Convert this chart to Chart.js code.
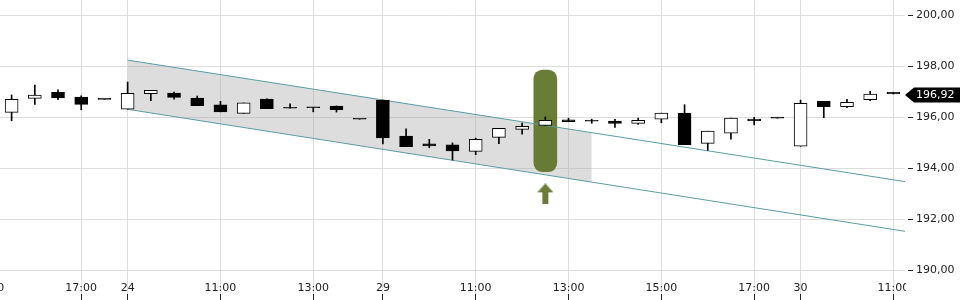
<!DOCTYPE html>
<html>
<head>
<meta charset="utf-8">
<script src="https://cdn.jsdelivr.net/npm/chart.js@4"></script>
<style>
  html, body { margin: 0; padding: 0; background: #fff; }
</style>
</head>
<body>
<canvas id="chart" width="960" height="300"></canvas>
<script>
// half-hour candles, index 0 = 15:30 of the previous session
const opens  = [196.20, 196.75, 196.99, 196.80, 196.71, 196.32, 196.93, 196.96, 196.76, 196.49,
                196.16, 196.72, 196.36, 196.38, 196.45, 195.93, 196.68, 195.27, 194.96, 194.92,
                194.67, 195.22, 195.53, 195.69, 195.91, 195.85, 195.86, 195.77, 195.93, 196.17,
                194.98, 195.38, 195.94, 195.97, 194.87, 196.63, 196.42, 196.70, 196.99];
const highs  = [196.88, 197.27, 197.08, 196.85, 196.71, 197.39, 197.06, 197.00, 196.84, 196.63,
                196.57, 196.73, 196.53, 196.38, 196.45, 195.93, 196.68, 195.55, 195.14, 195.00,
                195.19, 195.57, 195.78, 196.02, 195.97, 195.93, 195.93, 195.97, 196.17, 196.50,
                195.46, 195.97, 196.00, 195.97, 196.68, 196.63, 196.71, 197.03, 196.99];
const lows   = [195.87, 196.51, 196.70, 196.30, 196.71, 196.32, 196.66, 196.72, 196.46, 196.22,
                196.16, 196.34, 196.36, 196.22, 196.21, 195.93, 194.96, 194.85, 194.81, 194.33,
                194.54, 194.97, 195.34, 195.69, 195.83, 195.77, 195.61, 195.73, 195.79, 194.93,
                194.71, 195.15, 195.71, 195.97, 194.87, 195.99, 196.38, 196.66, 196.92];
const closes = [196.71, 196.88, 196.77, 196.51, 196.71, 196.95, 197.06, 196.79, 196.46, 196.22,
                196.57, 196.34, 196.36, 196.38, 196.30, 195.93, 195.20, 194.85, 194.88, 194.69,
                195.14, 195.57, 195.65, 195.89, 195.83, 195.85, 195.77, 195.89, 196.17, 194.93,
                195.46, 195.97, 195.87, 195.97, 196.55, 196.42, 196.59, 196.92, 196.92];

const tickIndex  = [-1, 3, 5, 9, 13, 16, 20, 24, 28, 32, 34, 38];
const tickLabels = ['15:00', '17:00', '24', '11:00', '13:00', '29', '11:00', '13:00', '15:00', '17:00', '30', '11:00'];
const priceTicks = [190, 192, 194, 196, 198, 200];

// trend channel lines and the shaded part between them
const channelX      = [5, 38.5];
const channelTop    = [198.25, 193.48];
const channelBottom = [196.32, 191.53];
const shadeX        = [5, 25];
const shadeTop      = [198.25, 195.40];
const shadeBottom   = [196.32, 193.47];

// signal marker
const signalIndex = 23;
const signalBand  = [193.87, 197.86];
const signalArrow = 193.0;

const teal = '#5b9ca3';
const olive = '#6b7d38';
const fmt = v => v.toFixed(2).replace('.', ',');
const idx = opens.map((_, i) => i);

Chart.defaults.font.family = '"DejaVu Sans"';
Chart.defaults.font.size = 11;

function makeArrow(color) {
  const c = document.createElement('canvas');
  c.width = 16; c.height = 21;
  const g = c.getContext('2d');
  g.fillStyle = color;
  g.beginPath();
  g.moveTo(8, 0); g.lineTo(16, 9); g.lineTo(11, 9); g.lineTo(11, 21);
  g.lineTo(5, 21); g.lineTo(5, 9); g.lineTo(0, 9);
  g.closePath();
  g.fill();
  return c;
}

const align = p => Math.round(p - 0.5) + 0.5;

// short dark marks under the time labels; time labels stop at the plot's right edge
const timeMarks = {
  id: 'timeMarks',
  afterDraw(chart) {
    const { ctx, chartArea, scales: { x } } = chart;
    ctx.save();
    ctx.fillStyle = '#fff';
    ctx.fillRect(chartArea.right + 1, chartArea.bottom + 1, chart.width, chart.height);
    ctx.strokeStyle = '#222';
    ctx.lineWidth = 1;
    x.ticks.forEach(t => {
      const px = x.getPixelForValue(t.value);
      if (px < 0) return;
      ctx.beginPath();
      ctx.moveTo(align(px), chart.height - 6);
      ctx.lineTo(align(px), chart.height);
      ctx.stroke();
    });
    ctx.restore();
  }
};

// black tag with the last price on the right axis
const lastPriceTag = {
  id: 'lastPriceTag',
  afterDraw(chart) {
    const { ctx, chartArea, scales: { y } } = chart;
    const price = closes[closes.length - 1];
    const py = Math.round(y.getPixelForValue(price)) + 1;
    const left = chartArea.right;
    ctx.save();
    ctx.fillStyle = '#000';
    ctx.beginPath();
    ctx.moveTo(left, py);
    ctx.lineTo(left + 9, py - 7.5);
    ctx.lineTo(chart.width, py - 7.5);
    ctx.lineTo(chart.width, py + 7.5);
    ctx.lineTo(left + 9, py + 7.5);
    ctx.closePath();
    ctx.fill();
    ctx.fillStyle = '#fff';
    ctx.font = '11px "DejaVu Sans"';
    ctx.textBaseline = 'middle';
    ctx.fillText(fmt(price), left + 11, py);
    ctx.restore();
  }
};

new Chart(document.getElementById('chart'), {
  type: 'bar',
  data: {
    datasets: [
      { // candle bodies
        type: 'bar',
        data: idx.map(i => ({ x: i, y: [opens[i], closes[i]] })),
        backgroundColor: idx.map(i => closes[i] > opens[i] ? '#fff' : '#000'),
        borderColor: '#000',
        borderWidth: 1,
        borderSkipped: false,
        barThickness: 13,
        minBarLength: 1,
        grouped: false,
      },
      { // wicks
        type: 'bar',
        data: idx.map(i => ({ x: i, y: [lows[i], highs[i]] })),
        backgroundColor: '#000',
        borderWidth: 0,
        barThickness: 1,
        grouped: false,
      },
      {
        type: 'line',
        data: channelX.map((x, k) => ({ x, y: channelTop[k] })),
        borderColor: teal, borderWidth: 1, pointRadius: 0, fill: false,
      },
      {
        type: 'line',
        data: channelX.map((x, k) => ({ x, y: channelBottom[k] })),
        borderColor: teal, borderWidth: 1, pointRadius: 0, fill: false,
      },
      { // arrow under the signal
        type: 'line',
        data: [{ x: signalIndex, y: signalArrow }],
        showLine: false,
        pointStyle: makeArrow(olive),
        pointRadius: 10,
      },
      { // signal highlight
        type: 'bar',
        data: [{ x: signalIndex, y: signalBand }],
        backgroundColor: 'rgba(98,118,44,0.95)',
        borderWidth: 0,
        borderRadius: 9,
        borderSkipped: false,
        barThickness: 23,
        grouped: false,
      },
      {
        type: 'line',
        data: shadeX.map((x, k) => ({ x, y: shadeTop[k] })),
        borderWidth: 0, pointRadius: 0,
        fill: '+1',
        backgroundColor: 'rgba(170,170,170,0.4)',
      },
      {
        type: 'line',
        data: shadeX.map((x, k) => ({ x, y: shadeBottom[k] })),
        borderWidth: 0, pointRadius: 0, fill: false,
      },
    ]
  },
  options: {
    responsive: false,
    devicePixelRatio: 1,
    animation: false,
    events: [],
    layout: { padding: 0, autoPadding: false },
    plugins: { legend: { display: false }, tooltip: { enabled: false } },
    scales: {
      x: {
        type: 'linear',
        min: -0.5,
        max: 38.5,
        offset: false,
        afterBuildTicks: s => { s.ticks = tickIndex.map(v => ({ value: v })); },
        afterFit: s => { s.height = 18; s.paddingLeft = 0; s.paddingRight = 0; },
        ticks: {
          autoSkip: false,
          maxRotation: 0,
          padding: -18,
          color: '#222',
          callback: (v, i) => tickLabels[i],
        },
        grid: { color: '#dddddd', offset: false, tickLength: 18, tickColor: '#dddddd' },
        border: { display: false },
      },
      y: {
        position: 'right',
        min: 189.54,
        max: 200.61,
        afterBuildTicks: s => { s.ticks = priceTicks.map(v => ({ value: v })); },
        afterFit: s => { s.width = 55; s.paddingTop = 0; s.paddingBottom = 0; },
        ticks: { padding: 3, color: '#222', callback: v => fmt(v) },
        grid: { color: '#dddddd', tickLength: 8, tickColor: '#222', tickBorderDash: [0, 3, 5, 20] },
        border: { display: false },
      }
    }
  },
  plugins: [timeMarks, lastPriceTag]
});
</script>
</body>
</html>
